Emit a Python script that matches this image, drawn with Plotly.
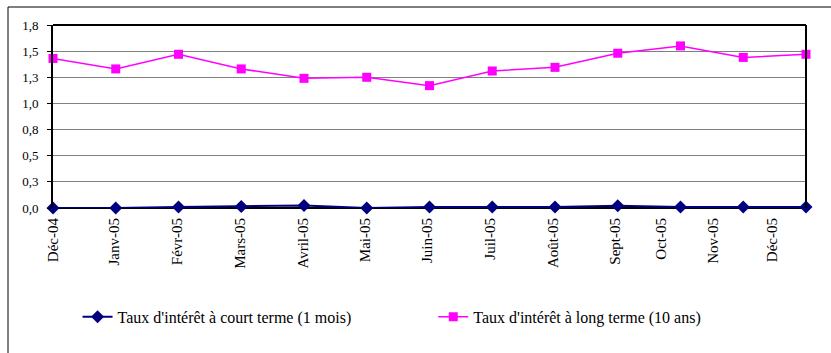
import plotly.graph_objects as go

# Monthly interest rates, Dec 2004 - Dec 2005
mois = ["Déc-04", "Janv-05", "Févr-05", "Mars-05", "Avril-05", "Mai-05", "Juin-05",
        "Juil-05", "Août-05", "Sept-05", "Oct-05", "Nov-05", "Déc-05"]
taux_court = [0.0, 0.0, 0.01, 0.015, 0.025, 0.0, 0.01, 0.01, 0.01, 0.022, 0.01, 0.01, 0.01]
taux_long = [1.43, 1.33, 1.47, 1.33, 1.24, 1.25, 1.17, 1.31, 1.345, 1.48, 1.55, 1.44, 1.47]

y_ticks = [0, 0.25, 0.5, 0.75, 1.0, 1.25, 1.5, 1.75]
y_labels = ["0,0", "0,3", "0,5", "0,8", "1,0", "1,3", "1,5", "1,8"]
# month label anchor points along the category index
x_label_pos = [0, 0.98, 1.98, 2.98, 3.98, 4.98, 5.97, 6.97, 7.97, 8.96, 9.69, 10.52, 11.46]

idx = list(range(len(mois)))
FONT = "Times New Roman, Liberation Serif, DejaVu Serif, serif"

fig = go.Figure()
fig.add_trace(go.Scatter(
    x=idx, y=taux_court, mode="lines+markers",
    name="Taux d'intérêt à court terme (1 mois)",
    line=dict(color="#000080", width=2),
    marker=dict(symbol="diamond", size=10, color="#000080"),
    cliponaxis=False, legend="legend",
))
fig.add_trace(go.Scatter(
    x=idx, y=taux_long, mode="lines+markers",
    name="Taux d'intérêt à long terme (10 ans)",
    line=dict(color="#FF00FF", width=1.5),
    marker=dict(symbol="square", size=9, color="#FF00FF"),
    cliponaxis=False, legend="legend2",
))

fig.update_layout(
    width=831, height=353,
    margin=dict(l=53, r=25, t=25, b=145),
    paper_bgcolor="white", plot_bgcolor="white",
    font=dict(family=FONT, size=13, color="black"),
    xaxis=dict(
        range=[0, 12], tickmode="array", tickvals=x_label_pos, ticktext=mois,
        tickangle=-90, showgrid=False, zeroline=False, showline=False,
        ticks="outside", ticklen=3, tickcolor="rgba(0,0,0,0)",
        tickfont=dict(family=FONT, size=15),
    ),
    yaxis=dict(
        range=[0, 1.75], tickmode="array", tickvals=y_ticks, ticktext=y_labels,
        showgrid=True, gridcolor="#808080", gridwidth=1, zeroline=False,
        showline=True, linecolor="black", linewidth=2,
        ticks="outside", ticklen=4, tickcolor="black", ticklabelstandoff=6,
        tickfont=dict(family=FONT, size=13),
    ),
    legend=dict(orientation="h", x=0.0326, y=-0.595, xanchor="left", yanchor="middle",
                font=dict(family=FONT, size=16), bgcolor="rgba(0,0,0,0)"),
    legend2=dict(orientation="h", x=0.505, y=-0.595, xanchor="left", yanchor="middle",
                 font=dict(family=FONT, size=16), bgcolor="rgba(0,0,0,0)"),
    showlegend=True,
)

# chart frame and plot-area borders
fig.add_shape(type="line", xref="paper", yref="paper", x0=0, x1=1, y0=1, y1=1,
              line=dict(color="black", width=2))
fig.add_shape(type="line", xref="paper", yref="paper", x0=1, x1=1, y0=0, y1=1,
              line=dict(color="black", width=2))
fig.add_shape(type="line", xref="paper", yref="paper", x0=0, x1=1, y0=0, y1=0,
              line=dict(color="black", width=2), layer="below")
fig.add_shape(type="line", xref="paper", yref="paper",
              x0=-45 / 753, x1=778 / 753, y0=(208 - 7) / 183, y1=(208 - 7) / 183,
              line=dict(color="black", width=1))
fig.add_shape(type="line", xref="paper", yref="paper",
              x0=-45 / 753, x1=-45 / 753, y0=(208 - 7) / 183, y1=(208 - 360) / 183,
              line=dict(color="black", width=1))

fig.write_html("out.html")
